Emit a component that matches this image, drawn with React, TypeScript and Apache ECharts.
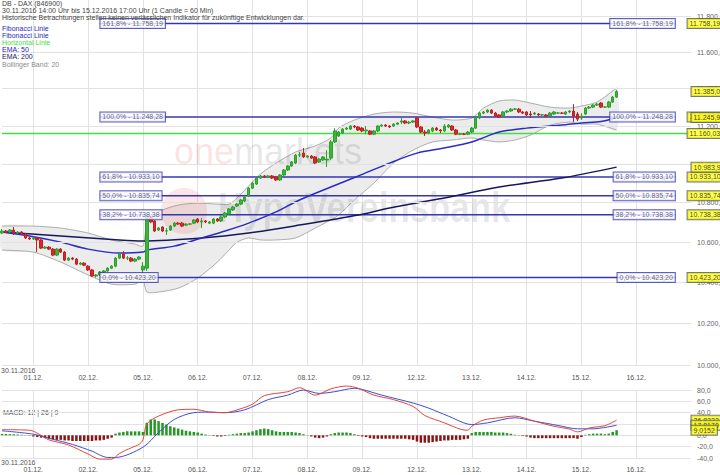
import React, { useEffect, useRef } from 'react';
import * as echarts from 'echarts';

// ---------- axis categories (hourly candles, 08:00-21:00) ----------
const days = ['30.11.', '01.12.', '02.12.', '05.12.', '06.12.', '07.12.', '08.12.', '09.12.', '12.12.', '13.12.', '14.12.', '15.12.', '16.12.'];
const dayFirstHour = [14, 8, 8, 8, 8, 8, 8, 8, 8, 8, 8, 8, 8];
const dayLastHour = [21, 21, 21, 21, 21, 21, 21, 21, 21, 21, 21, 21, 22];

// ---------- candles [open, close, low, high] ----------
const ohlc: number[][] = [
  [10646, 10656, 10641, 10666], [10656, 10651, 10646, 10661], [10651, 10661, 10646, 10666], [10661, 10646, 10636, 10676],
  [10646, 10651, 10641, 10656], [10651, 10641, 10636, 10656], [10641, 10621, 10616, 10646], [10621, 10616, 10611, 10626],
  [10616, 10621, 10611, 10626], [10621, 10611, 10550, 10626], [10611, 10570, 10565, 10616], [10570, 10575, 10565, 10580],
  [10575, 10565, 10560, 10580], [10565, 10535, 10530, 10570], [10535, 10565, 10530, 10570], [10565, 10550, 10545, 10570],
  [10550, 10510, 10505, 10555], [10510, 10520, 10505, 10525], [10520, 10515, 10510, 10525], [10515, 10490, 10485, 10520],
  [10490, 10495, 10485, 10500], [10495, 10485, 10480, 10500], [10480, 10461, 10456, 10485], [10461, 10431, 10426, 10466],
  [10431, 10436, 10423.2, 10441], [10436, 10451, 10431, 10456], [10451, 10456, 10446, 10461], [10456, 10470, 10451, 10475],
  [10470, 10480, 10466, 10485], [10480, 10520, 10475, 10525], [10520, 10540, 10515, 10545], [10540, 10520, 10515, 10555],
  [10520, 10521, 10510, 10530], [10520, 10505, 10500, 10525], [10505, 10515, 10500, 10520], [10515, 10525, 10510, 10530],
  [10461, 10480, 10446, 10500], [10470, 10727, 10456, 10747], [10727, 10702, 10696, 10732], [10707, 10656, 10651, 10712],
  [10661, 10671, 10656, 10676], [10676, 10656, 10651, 10681], [10656, 10657, 10636, 10671], [10661, 10681, 10656, 10686],
  [10681, 10696, 10676, 10702], [10696, 10691, 10686, 10702], [10696, 10681, 10676, 10702], [10686, 10691, 10681, 10696],
  [10691, 10692, 10686, 10696], [10696, 10712, 10691, 10717], [10717, 10702, 10696, 10722], [10702, 10707, 10671, 10722],
  [10707, 10702, 10696, 10712], [10696, 10702, 10691, 10707], [10696, 10717, 10691, 10722], [10717, 10707, 10702, 10722],
  [10707, 10727, 10702, 10737], [10727, 10747, 10722, 10753], [10742, 10768, 10737, 10773], [10763, 10778, 10758, 10783],
  [10783, 10793, 10778, 10798], [10793, 10814, 10788, 10819], [10809, 10829, 10803, 10834], [10834, 10875, 10829, 10881],
  [10875, 10901, 10870, 10907], [10896, 10927, 10891, 10933], [10927, 10938, 10922, 10943], [10938, 10933, 10927, 10943],
  [10933, 10938, 10927, 10943], [10938, 10927, 10922, 10943], [10933, 10917, 10912, 10938], [10917, 10943, 10912, 10948],
  [10943, 10969, 10938, 10974], [10969, 10990, 10964, 10995], [10990, 11011, 10985, 11016], [11005, 11047, 11000, 11052],
  [11047, 11048, 11037, 11063], [11057, 11037, 11031, 11084], [11037, 11042, 11031, 11047], [11042, 11031, 11026, 11047],
  [11037, 11005, 11000, 11042], [11011, 11026, 11005, 11031], [11021, 11037, 11016, 11042], [11021, 11026, 10985, 11073],
  [11031, 11116, 11021, 11126], [11116, 11174, 11110, 11189], [11147, 11168, 11142, 11174], [11163, 11184, 11157, 11189],
  [11184, 11189, 11179, 11195], [11184, 11200, 11179, 11205], [11200, 11195, 11189, 11205], [11195, 11179, 11174, 11200],
  [11189, 11174, 11168, 11195], [11174, 11179, 11157, 11200], [11174, 11157, 11152, 11179], [11157, 11174, 11152, 11179],
  [11174, 11200, 11168, 11205], [11200, 11205, 11195, 11210], [11205, 11200, 11195, 11210], [11200, 11195, 11189, 11205],
  [11200, 11210, 11195, 11216], [11210, 11216, 11205, 11221], [11221, 11227, 11210, 11243], [11227, 11216, 11210, 11232],
  [11216, 11221, 11210, 11227], [11221, 11227, 11216, 11232], [11243, 11195, 11189, 11248], [11195, 11168, 11163, 11200],
  [11168, 11163, 11147, 11179], [11163, 11179, 11157, 11184], [11174, 11189, 11168, 11195], [11189, 11179, 11174, 11195],
  [11179, 11174, 11163, 11184], [11174, 11200, 11168, 11210], [11195, 11205, 11189, 11210], [11200, 11179, 11174, 11205],
  [11179, 11157, 11152, 11184], [11157, 11158, 11152, 11163], [11157, 11156, 11152, 11163], [11157, 11168, 11152, 11174],
  [11168, 11189, 11163, 11195], [11189, 11243, 11184, 11248], [11243, 11269, 11237, 11275], [11269, 11275, 11264, 11280],
  [11275, 11285, 11269, 11290], [11285, 11269, 11264, 11290], [11269, 11253, 11248, 11275], [11259, 11248, 11243, 11264],
  [11253, 11275, 11248, 11280], [11275, 11280, 11269, 11285], [11280, 11290, 11275, 11296], [11290, 11291, 11285, 11296],
  [11290, 11275, 11269, 11296], [11275, 11269, 11264, 11280], [11275, 11259, 11253, 11280], [11264, 11259, 11243, 11280],
  [11264, 11269, 11259, 11275], [11264, 11259, 11253, 11269], [11259, 11260, 11253, 11264], [11259, 11253, 11248, 11264],
  [11253, 11269, 11248, 11275], [11264, 11275, 11259, 11280], [11269, 11270, 11264, 11275], [11269, 11268, 11264, 11275],
  [11264, 11275, 11259, 11280], [11275, 11280, 11269, 11285], [11280, 11253, 11221, 11317], [11264, 11237, 11227, 11275],
  [11243, 11253, 11232, 11269], [11264, 11296, 11259, 11301], [11296, 11301, 11290, 11307], [11301, 11312, 11296, 11317],
  [11312, 11317, 11307, 11323], [11323, 11301, 11296, 11328], [11301, 11302, 11296, 11307], [11301, 11328, 11296, 11334],
  [11328, 11355, 11323, 11361], [11355, 11385, 11350, 11393],
];

// ---------- indicators (read at sample candles) ----------
const ema50Idx = [0, 7, 15, 22, 30, 36, 37, 44, 51, 57, 63, 70, 76, 84, 91, 99, 106, 113, 120, 127, 134, 143, 148, 153, 157];
const ema50Val = [10651, 10631, 10600, 10565, 10545, 10550, 10560, 10580, 10621, 10656, 10696, 10753, 10814, 10881, 10938, 11005, 11057, 11084, 11116, 11168, 11189, 11205, 11216, 11224, 11245.9];
const ema200Idx = [0, 15, 30, 36, 51, 63, 76, 91, 99, 113, 127, 143, 157];
const ema200Val = [10651, 10631, 10611, 10606, 10621, 10646, 10686, 10737, 10773, 10824, 10881, 10927, 10983.9];

const bbIdx = [0, 8, 15, 22, 28, 34, 36, 37, 40, 45, 50, 55, 58, 60, 63, 66, 70, 75, 80, 84, 86, 90, 95, 100, 105, 110, 115, 120, 123, 127, 131, 135, 140, 145, 148, 152, 157];
const bbUpper = [10681, 10681, 10671, 10646, 10611, 10590, 10580, 10686, 10753, 10788, 10798, 10793, 10793, 10824, 10886, 10948, 11005, 11063, 11095, 11137, 11190, 11232, 11264, 11275, 11269, 11248, 11232, 11243, 11296, 11334, 11339, 11323, 11301, 11296, 11307, 11328, 11404];
const bbLower = [10560, 10550, 10500, 10436, 10391, 10391, 10411, 10352, 10352, 10371, 10421, 10500, 10560, 10600, 10621, 10611, 10611, 10621, 10671, 10712, 10737, 10814, 10901, 11005, 11073, 11116, 11126, 11137, 11126, 11116, 11126, 11152, 11205, 11221, 11210, 11210, 11179];

// ---------- price levels ----------
const mainTicks = [10000, 10200, 10400, 10600, 10800, 11000, 11200, 11400, 11600, 11800];
const fibLevels = [11758.19, 11248.28, 10933.10, 10835.74, 10738.38, 10423.20];
const fibTexts = ['161,8% - 11.758,19', '100,0% - 11.248,28', '61,8% - 10.933,10', '50,0% - 10.835,74', '38,2% - 10.738,38', '0,0% - 10.423,20'];
const fibStart = 25;
const fibEnd = 172;
const horizontalEnd = 175;
const horizontalLevel = 11160.03;

const tagValues = [11758.19, 11248.28, 11160.03, 10933.10, 10835.74, 10738.38, 10423.20, 11385.0, 11245.9, 10983.9];
const tagTexts = ['11.758,19', '11.248,28', '11.160,030', '10.933,10', '10.835,74', '10.738,38', '10.423,20', '11.385,0', '11.245,9', '10.983,9'];
const tagSlot = [175, 175, 175, 175, 175, 175, 175, 176, 176, 176];

// ---------- MACD 12 | 26 | 9 ----------
const macdIdx = [0, 7, 12, 17, 22, 25, 28, 30, 33, 35, 36, 37, 40, 45, 49, 53, 57, 61, 64, 67, 73, 76, 80, 84, 88, 91, 95, 100, 105, 108, 113, 117, 119, 120, 123, 127, 131, 136, 141, 145, 147, 150, 154, 157];
const macdVal = [10, 9, -8, -17, -33, -42, -42, -32, -22, -16, -8, 20, 34, 45, 46, 41, 40, 47, 55, 70, 77, 84, 71, 82, 87, 83, 71, 63, 51, 35, 22, 11, 9, 16, 27, 31, 34, 25, 16, 11, 6, 13, 17, 26.83];
const signalIdx = [0, 8, 13, 18, 23, 27, 29, 36, 40, 44, 49, 53, 57, 62, 68, 73, 77, 81, 85, 90, 92, 97, 105, 109, 114, 120, 124, 131, 136, 142, 147, 151, 157];
const signalVal = [8, 2, -7, -16, -28, -39, -39, -21, 5, 28, 40, 41, 40, 45, 63, 71, 80, 74, 77, 83, 81, 71, 57, 48, 34, 19, 22, 31, 25, 17.5, 11.5, 11.5, 17.82];
const histVal = [
  2.5, 2.5, 2, 2, 1.5, 1, 0.5, -0.5, -2, -3, -4, -5, -6, -7, -8, -8, -9, -9, -10, -10,
  -10, -10, -10, -10, -9, -9, -8, -6, -4, 3, 5, 6, 7, 7, 7, 7, 6, 22, 28, 28,
  25, 22, 19, 16, 14, 12, 10, 8, 7, 6, 5, 3, 1.5, 0.5, -1, -2, -2, -1, 1, 2,
  3, 4, 4, 5, 7, 9, 11, 12, 11, 9, 7, 6, 6, 6, 6, 5, 4, 2, 0.5, -2,
  -4, -5, -4, -2, 2, 4, 5, 5, 5, 4, 2, -1, -2, -3, -5, -6, -6, -6, -6, -6,
  -6, -6, -6, -6, -7, -8, -11, -13, -13, -13, -12, -11, -10, -9, -9, -8, -8, -8, -7, -6,
  4, 6, 6, 6, 6, 6, 5, 5, 5, 4, 3, 1, 0.5, -1, -2, -4, -5, -5, -5, -5,
  -5, -5, -5, -5, -5, -5, -5, -6, -3, 1, 2, 3, 3, 3, 2, 3, 6, 9.0,
];
const macdTagValues = [26.83, 17.82, 9.01];
const macdTagTexts = ['26,8322', '17,8170', '9,0152'];

// ---------- texts ----------
const headerLines = [
  'DB - DAX (846900)',
  '30.11.2016 14:00 Uhr bis 15.12.2016 17:00 Uhr (1 Candle = 60 Min)',
  'Historische Betrachtungen stellen keinen verlässlichen Indikator für zukünftige Entwicklungen dar.',
];
const legendItems = ['Fibonacci Linie', 'Fibonacci Linie', 'Horizontal Linie', 'EMA: 50', 'EMA: 200', 'Bollinger Band: 20'];
const legendColors = ['#2a2ab8', '#2a2ab8', '#3fe03f', '#2424c8', '#16165e', '#8a8a8a'];

const FONT = '"Liberation Sans", Arial, sans-serif';

function deNumber(v: number, digits: number): string {
  const [i, d] = Math.abs(v).toFixed(digits).split('.');
  const s = i.replace(/\B(?=(\d{3})+(?!\d))/g, '.');
  return (v < 0 ? '-' : '') + s + (d !== undefined ? ',' + d : '');
}

function buildCategories(): string[] {
  const out: string[] = [];
  days.forEach((d, k) => {
    for (let h = dayFirstHour[k]; h <= dayLastHour[k]; h++) out.push(d + ' ' + String(h).padStart(2, '0'));
  });
  return out;
}

export default function App() {
  const ref = useRef<HTMLDivElement>(null);

  useEffect(() => {
    if (!ref.current) return;
    const chart = echarts.init(ref.current, null, { renderer: 'svg' });
    const categories = buildCategories();
    const isDayStart = (_i: number, v: string) => v.endsWith(' 08');
    const dayOf = (v: string) => v.split(' ')[0];

    const xAxisBase = (grid: number, margin: number) => ({
      type: 'category',
      gridIndex: grid,
      data: categories,
      boundaryGap: false,
      axisLine: { show: false },
      axisTick: { show: false },
      axisLabel: { interval: isDayStart, formatter: dayOf, fontSize: 7, color: '#555', margin, fontFamily: FONT },
      splitLine: { show: true, interval: isDayStart, lineStyle: { color: '#e2e2e2', width: 1 } },
    });

    const labelScatter = (
      name: string,
      data: number[][],
      texts: string[],
      position: string,
      bg: string,
      border: string,
      color: string,
      grid: number,
    ) => ({
      name,
      type: 'scatter',
      xAxisIndex: grid,
      yAxisIndex: grid,
      data,
      symbol: 'circle',
      symbolSize: 1,
      silent: true,
      z: 10,
      itemStyle: { color: 'rgba(0,0,0,0)' },
      label: {
        show: true,
        position,
        distance: 0,
        formatter: (p: any) => texts[p.dataIndex],
        backgroundColor: bg,
        borderColor: border,
        borderWidth: 1,
        padding: [1, 2, 0, 2],
        fontSize: 7,
        lineHeight: 8,
        color,
        fontFamily: FONT,
      },
    });

    const option: any = {
      animation: false,
      backgroundColor: '#ffffff',
      textStyle: { fontFamily: FONT },
      grid: [
        { left: 2, right: 29, top: 0, height: 365 },
        { left: 2, right: 29, top: 390, height: 68 },
      ],
      xAxis: [xAxisBase(0, 9), xAxisBase(1, 8)],
      yAxis: [
        {
          type: 'log',
          gridIndex: 0,
          logBase: 10,
          min: 10000,
          max: 11890,
          axisLabel: { show: false },
          axisLine: { show: false },
          axisTick: { show: false },
          splitLine: { show: false },
        },
        {
          type: 'value',
          gridIndex: 1,
          position: 'right',
          min: -40,
          max: 80,
          interval: 20,
          axisLine: { show: false },
          axisTick: { show: false },
          axisLabel: { fontSize: 7, color: '#666', margin: 6, fontFamily: FONT, formatter: (v: number) => deNumber(v, 1) },
          splitLine: { lineStyle: { color: '#e2e2e2' } },
        },
      ],
      graphic: [
        ...headerLines.map((t, i) => ({
          type: 'text', left: 2, top: i * 7, silent: true, z: 20,
          style: { text: t, fill: '#444', font: '7px ' + FONT },
        })),
        ...legendItems.map((t, i) => ({
          type: 'text', left: 2, top: 24.5 + i * 7.2, silent: true, z: 20,
          style: { text: t, fill: legendColors[i], font: '7px ' + FONT },
        })),
        { type: 'text', left: 1, top: 367, silent: true, style: { text: '30.11.2016', fill: '#555', font: '7px ' + FONT } },
        { type: 'text', left: 1, top: 459, silent: true, style: { text: '30.11.2016', fill: '#555', font: '7px ' + FONT } },
        { type: 'text', left: 3, top: 409, silent: true, style: { text: 'MACD: 12 | 26 | 9', fill: '#555', font: '7px ' + FONT } },
        // watermark
        { type: 'text', left: 174, top: 133, silent: true, z: 2, style: { text: 'one', fill: 'rgba(225,40,40,0.15)', font: '36px ' + FONT } },
        { type: 'text', left: 234, top: 133, silent: true, z: 2, style: { text: 'markets', fill: 'rgba(0,0,0,0.11)', font: '36px ' + FONT } },
        { type: 'circle', shape: { cx: 184, cy: 211, r: 23 }, silent: true, z: 2, style: { fill: 'rgba(220,40,40,0.12)' } },
        { type: 'text', left: 218, top: 186, silent: true, z: 2, scaleX: 0.83, style: { text: 'HypoVereinsbank', fill: 'rgba(0,0,0,0.1)', font: 'bold 42px ' + FONT } },
      ],
      series: [
        {
          name: 'grid',
          type: 'line',
          xAxisIndex: 0,
          yAxisIndex: 0,
          data: [],
          silent: true,
          z: 0,
          markLine: {
            silent: true,
            symbol: 'none',
            lineStyle: { color: '#e2e2e2', type: 'solid', width: 1 },
            label: {
              show: true,
              position: 'end',
              distance: 6,
              fontSize: 7,
              color: '#666',
              fontFamily: FONT,
              formatter: (p: any) => deNumber(p.value, 1),
            },
            data: mainTicks.map((v) => ({ yAxis: v })),
          },
        },
        {
          name: 'Bollinger Band: 20',
          type: 'custom',
          xAxisIndex: 0,
          yAxisIndex: 0,
          z: 1,
          silent: true,
          data: [[0, bbUpper[0]]],
          renderItem: (_params: any, api: any) => {
            const up = bbIdx.map((i, k) => api.coord([i, bbUpper[k]]));
            const lo = bbIdx.map((i, k) => api.coord([i, bbLower[k]]));
            return {
              type: 'group',
              children: [
                { type: 'polygon', shape: { points: up.concat(lo.slice().reverse()), smooth: 0.25 }, style: { fill: '#ececec', stroke: 'none' } },
                { type: 'polyline', shape: { points: up, smooth: 0.25 }, style: { stroke: '#9a9a9a', lineWidth: 0.8, fill: 'none' } },
                { type: 'polyline', shape: { points: lo, smooth: 0.25 }, style: { stroke: '#9a9a9a', lineWidth: 0.8, fill: 'none' } },
              ],
            };
          },
        },
        {
          name: 'Horizontal Linie',
          type: 'line',
          xAxisIndex: 0,
          yAxisIndex: 0,
          data: [[0, horizontalLevel], [horizontalEnd, horizontalLevel]],
          symbol: 'none',
          silent: true,
          z: 3,
          lineStyle: { color: '#44dd44', width: 1.5 },
        },
        ...fibLevels.map((v, i) => ({
          name: 'Fibonacci ' + i,
          type: 'line',
          xAxisIndex: 0,
          yAxisIndex: 0,
          data: [[fibStart, v], [fibEnd, v]],
          symbol: 'none',
          silent: true,
          z: 3,
          lineStyle: { color: '#3636b4', width: 1.5 },
        })),
        {
          name: 'EMA: 200',
          type: 'line',
          xAxisIndex: 0,
          yAxisIndex: 0,
          data: ema200Idx.map((i, k) => [i, ema200Val[k]]),
          smooth: 0.3,
          symbol: 'none',
          silent: true,
          z: 4,
          lineStyle: { color: '#17175e', width: 1.5 },
        },
        {
          name: 'EMA: 50',
          type: 'line',
          xAxisIndex: 0,
          yAxisIndex: 0,
          data: ema50Idx.map((i, k) => [i, ema50Val[k]]),
          smooth: 0.3,
          symbol: 'none',
          silent: true,
          z: 4,
          lineStyle: { color: '#2a2ac8', width: 1.5 },
        },
        {
          name: 'DAX',
          type: 'candlestick',
          xAxisIndex: 0,
          yAxisIndex: 0,
          data: ohlc,
          barWidth: 3,
          z: 5,
          silent: true,
          itemStyle: { color: '#3bb53b', color0: '#d42a2a', borderColor: '#2f9f2f', borderColor0: '#c22020', borderWidth: 1 },
        },
        labelScatter('fibLeft', fibLevels.map((v) => [fibStart, v]), fibTexts, 'right', '#ffffff', '#3636b4', '#3a3a6a', 0),
        labelScatter('fibRight', fibLevels.map((v) => [fibEnd, v]), fibTexts, 'left', '#ffffff', '#3636b4', '#3a3a6a', 0),
        labelScatter('tags', tagValues.map((v, i) => [tagSlot[i], v]), tagTexts, 'right', '#ffff22', '#555', '#111', 0),
        {
          name: 'Histogramm',
          type: 'bar',
          xAxisIndex: 1,
          yAxisIndex: 1,
          data: histVal,
          barWidth: 2.5,
          silent: true,
          itemStyle: { color: (p: any) => (p.value >= 0 ? '#229922' : '#8b1414') },
        },
        {
          name: 'Signal',
          type: 'line',
          xAxisIndex: 1,
          yAxisIndex: 1,
          data: signalIdx.map((i, k) => [i, signalVal[k]]),
          smooth: 0.3,
          symbol: 'none',
          clip: false,
          silent: true,
          lineStyle: { color: '#3c4fd0', width: 1 },
        },
        {
          name: 'MACD',
          type: 'line',
          xAxisIndex: 1,
          yAxisIndex: 1,
          data: macdIdx.map((i, k) => [i, macdVal[k]]),
          smooth: 0.3,
          symbol: 'none',
          clip: false,
          silent: true,
          lineStyle: { color: '#e0473c', width: 1 },
        },
        labelScatter('macdTags', macdTagValues.map((v) => [176, v]), macdTagTexts, 'right', '#ffff22', '#555', '#111', 1),
      ],
    };

    chart.setOption(option);
    return () => chart.dispose();
  }, []);

  return <div ref={ref} style={{ position: 'fixed', left: 0, top: 0, width: 720, height: 475, background: '#fff' }} />;
}
